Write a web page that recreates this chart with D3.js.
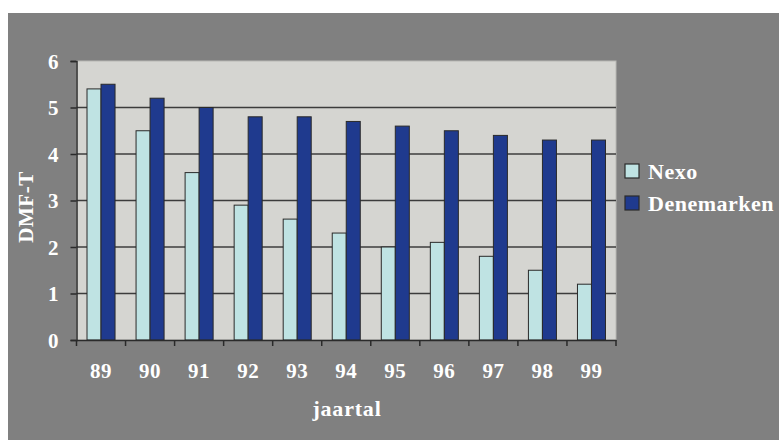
<!DOCTYPE html>
<html><head><meta charset="utf-8">
<script src="https://cdn.jsdelivr.net/npm/d3@7"></script>
<style>html,body{margin:0;padding:0;background:#fff;}svg{display:block;}</style>
</head><body>
<script>
const categories = ["89","90","91","92","93","94","95","96","97","98","99"];
const seriesNames = ["Nexo","Denemarken"];
const nexo = [5.4,4.5,3.6,2.9,2.6,2.3,2.0,2.1,1.8,1.5,1.2];
const denemarken = [5.5,5.2,5.0,4.8,4.8,4.7,4.6,4.5,4.4,4.3,4.3];
const yTicks = [0,1,2,3,4,5,6];
const colors = ["#bfe3e3","#1f3a8e"];

const W=779,H=440;
const svg=d3.select("body").append("svg").attr("width",W).attr("height",H);
svg.append("rect").attr("x",0).attr("y",0).attr("width",W).attr("height",H).attr("fill","#fff");
svg.append("rect").attr("x",8).attr("y",13).attr("width",W-8).attr("height",H-13).attr("fill","#808080");

const L=76.5,R=616,T=61,B=340;
const x=d3.scaleBand().domain(categories).range([L,R]).paddingInner(0).paddingOuter(0);
const xs=d3.scaleBand().domain(seriesNames).range([0,x.bandwidth()]).paddingInner(0).paddingOuter(0.75);
const y=d3.scaleLinear().domain([0,6]).range([B,T]);
const font="'Liberation Serif','Times New Roman',serif";

svg.append("rect").attr("x",L).attr("y",T).attr("width",R-L).attr("height",B-T)
  .attr("fill","#d5d5d1").attr("stroke","#b8b8b4").attr("stroke-width",1);

// gridlines
svg.append("g").selectAll("line").data(yTicks.filter(d=>d>0&&d<6)).join("line")
  .attr("x1",L).attr("x2",R).attr("y1",d=>y(d)).attr("y2",d=>y(d))
  .attr("stroke","#3c3c3c").attr("stroke-width",1.5);

const data=categories.map((c,i)=>({c,vals:[{s:"Nexo",v:nexo[i]},{s:"Denemarken",v:denemarken[i]}]}));
const g=svg.append("g").selectAll("g").data(data).join("g").attr("transform",d=>`translate(${x(d.c)},0)`);
g.selectAll("rect").data(d=>d.vals).join("rect")
  .attr("x",d=>xs(d.s)).attr("width",xs.bandwidth())
  .attr("y",d=>y(d.v)).attr("height",d=>B-y(d.v))
  .attr("fill",(d,i)=>colors[i]).attr("stroke","#2a2a2a").attr("stroke-width",1);

// y axis
const ya=svg.append("g").attr("transform",`translate(${L},0)`)
  .call(d3.axisLeft(y).tickValues(yTicks).tickSize(6).tickPadding(12).tickFormat(d3.format("d")));
ya.select(".domain").attr("stroke","#2a2a2a").attr("stroke-width",1.5);
ya.selectAll(".tick line").attr("stroke","#2a2a2a").attr("stroke-width",1.5);
ya.selectAll("text").attr("fill","#fff").attr("font-family",font).attr("font-weight","bold").attr("font-size",21).attr("dy","0.35em");

// x axis
const xa=svg.append("g").attr("transform",`translate(0,${B})`)
  .call(d3.axisBottom(x).tickSize(0).tickPadding(23));
xa.select(".domain").attr("stroke","#2a2a2a").attr("stroke-width",1.5);
xa.selectAll("text").attr("fill","#fff").attr("font-family",font).attr("font-weight","bold").attr("font-size",21).attr("letter-spacing",0.5);
svg.append("g").selectAll("line").data(categories.concat(["end"])).join("line")
  .attr("x1",(d,i)=>i<categories.length?x(d):R).attr("x2",(d,i)=>i<categories.length?x(d):R)
  .attr("y1",B).attr("y2",B+6).attr("stroke","#2a2a2a").attr("stroke-width",1.5);

// axis titles
svg.append("text").attr("transform","translate(33,207) rotate(-90)").attr("text-anchor","middle")
  .attr("fill","#fff").attr("font-family",font).attr("font-weight","bold").attr("font-size",21).attr("letter-spacing",0.5).text("DMF-T");
svg.append("text").attr("x",347).attr("y",416).attr("text-anchor","middle")
  .attr("fill","#fff").attr("font-family",font).attr("font-weight","bold").attr("font-size",22).attr("letter-spacing",0.8).text("jaartal");

// legend
const lg=svg.append("g").selectAll("g").data(seriesNames).join("g")
  .attr("transform",(d,i)=>`translate(625,${164+i*32})`);
lg.append("rect").attr("width",14).attr("height",14).attr("fill",(d,i)=>colors[i]).attr("stroke","#2a2a2a").attr("stroke-width",1.2);
lg.append("text").attr("x",23).attr("y",15).attr("fill","#fff").attr("font-family",font)
  .attr("font-weight","bold").attr("font-size",22).attr("letter-spacing",0.5).text(d=>d);
</script>
</body></html>
